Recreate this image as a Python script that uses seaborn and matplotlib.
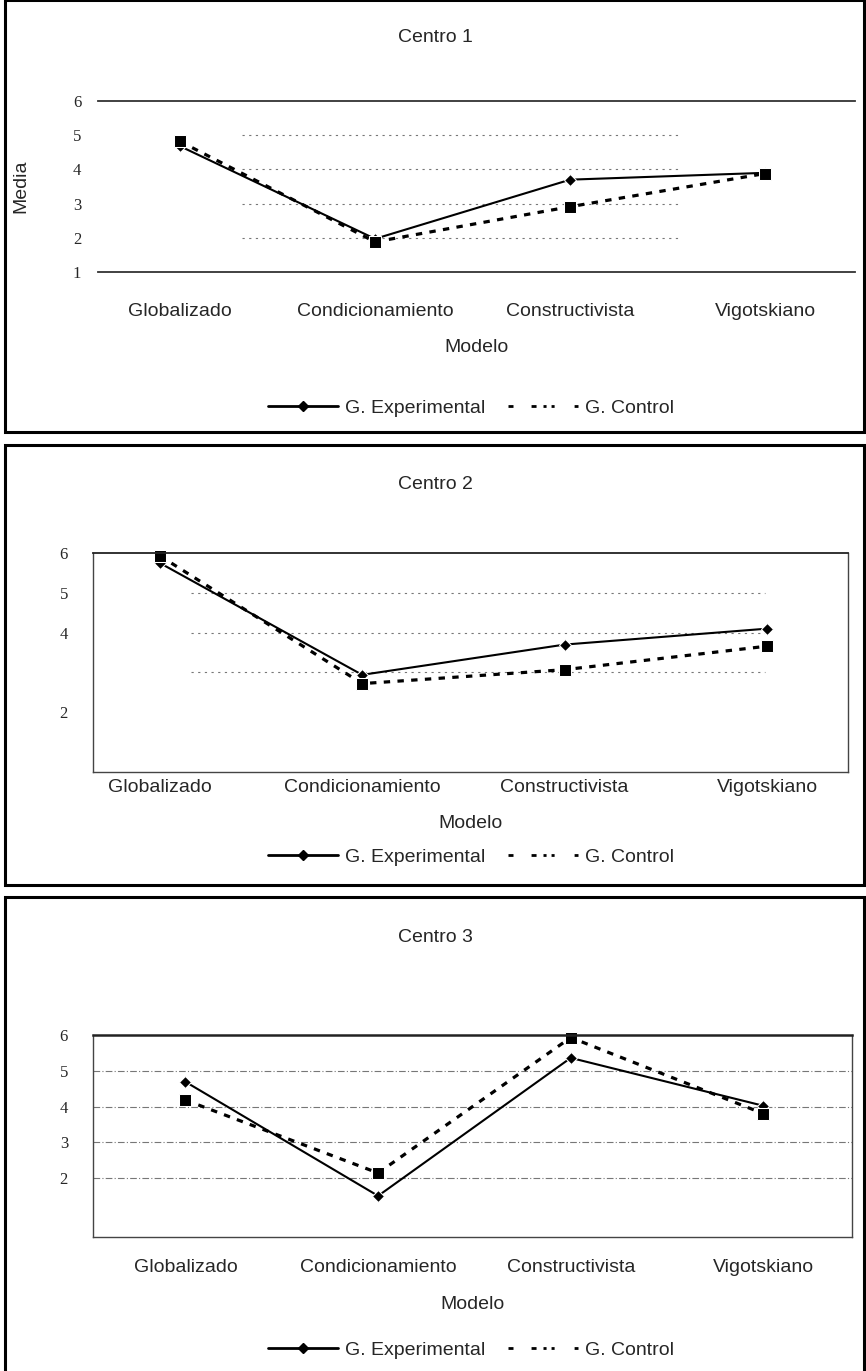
import numpy as np
import pandas as pd
import seaborn as sns
import matplotlib.pyplot as plt
from matplotlib.lines import Line2D
from matplotlib.patches import Rectangle

# data
modelos = ["Globalizado", "Condicionamiento", "Constructivista", "Vigotskiano"]
c1_exp = [4.68, 1.97, 3.70, 3.90]
c1_ctl = [4.82, 1.88, 2.91, 3.88]
c2_exp = [5.75, 2.94, 3.70, 4.10]
c2_ctl = [5.93, 2.72, 3.07, 3.66]
c3_exp = [4.69, 1.50, 5.36, 4.02]
c3_ctl = [4.18, 2.14, 5.93, 3.80]

sns.set_style("white")
plt.rcParams['font.family'] = ['Liberation Sans', 'DejaVu Sans']

W, H = 866, 1371
fig = plt.figure(figsize=(W / 100, H / 100), dpi=100)


def fx(px):
    return px / W


def fy(py):
    return 1 - py / H


ctl_dash = (0, (2.0, 2.3))
leg_dash = (0, (1.8, 6.5, 1.8, 2.5, 1.1, 1.8, 1.1, 7.2))

panels = [
    dict(title="Centro 1", exp=c1_exp, ctl=c1_ctl, box=(0, 432),
         ax=(98, 855, 101, 272), ylim=(1, 6), yticks=[1, 2, 3, 4, 5, 6],
         xlim=(-0.42, 3.46), grid=[2, 3, 4, 5], gx=(0.19, 0.77), gstyle=(0, (2, 4)),
         xpad=22, ypad=12, ty=37, ly=408),
    dict(title="Centro 2", exp=c2_exp, ctl=c2_ctl, box=(445, 885),
         ax=(93, 848, 553, 772), ylim=(0.5, 6), yticks=[2, 4, 5, 6],
         xlim=(-0.33, 3.4), grid=[3, 4, 5], gx=(0.13, 0.89), gstyle=(0, (2, 4)),
         xpad=5, ypad=18, ty=484, ly=857),
    dict(title="Centro 3", exp=c3_exp, ctl=c3_ctl, box=(897, 1380),
         ax=(93, 852, 1035, 1237), ylim=(0.35, 6), yticks=[2, 3, 4, 5, 6],
         xlim=(-0.48, 3.46), grid=[2, 3, 4, 5], gx=(0.0, 1.0), gstyle=(0, (6, 2, 1, 2)),
         xpad=16, ypad=18, ty=937, ly=1350),
]

for i, p in enumerate(panels):
    # outer frame of each chart
    b0, b1 = p["box"]
    fig.patches.append(Rectangle((fx(5), fy(b1)), fx(864 - 5), (b1 - b0) / H,
                                 transform=fig.transFigure, fill=False,
                                 edgecolor="black", linewidth=2.2))
    fig.text(fx(435), fy(p["ty"]), p["title"], ha="center", va="center", fontsize=14)

    l, r, t, b = p["ax"]
    ax = fig.add_axes([fx(l), fy(b), fx(r - l), (b - t) / H])

    df = pd.DataFrame({"Modelo": modelos, "exp": p["exp"], "ctl": p["ctl"]})
    sns.lineplot(data=df, x="Modelo", y="exp", sort=False, color="black",
                 linewidth=1.5, marker="D", markersize=6, ax=ax, clip_on=False)
    sns.lineplot(data=df, x="Modelo", y="ctl", sort=False, color="black",
                 linewidth=2.3, linestyle=ctl_dash, marker="s", markersize=8,
                 ax=ax, clip_on=False)

    for g in p["grid"]:
        ax.axhline(g, xmin=p["gx"][0], xmax=p["gx"][1], color="#777777",
                   linewidth=0.8, linestyle=p["gstyle"], zorder=0)

    ax.set_xlim(*p["xlim"])
    ax.set_ylim(*p["ylim"])
    ax.set_yticks(p["yticks"])
    ax.set_yticklabels([str(v) for v in p["yticks"]], family="Liberation Serif", fontsize=12)
    ax.tick_params(axis="x", length=0, pad=p["xpad"], labelsize=14)
    ax.tick_params(axis="y", length=0, pad=p["ypad"])
    ax.set_xlabel("Modelo", fontsize=14, labelpad=14)

    if i == 0:
        ax.set_ylabel("Media", fontsize=14)
        ax.yaxis.set_label_coords(-0.09, 0.5)
        for s in ["left", "right"]:
            ax.spines[s].set_visible(False)
        ax.spines["top"].set_color("#333333")
        ax.spines["bottom"].set_color("#333333")
        ax.spines["top"].set_linewidth(1.3)
        ax.spines["bottom"].set_linewidth(1.3)
    else:
        ax.set_ylabel("")
        for s in ["left", "right", "bottom"]:
            ax.spines[s].set_color("#444444")
            ax.spines[s].set_linewidth(1.0)
        ax.spines["top"].set_color("#222222")
        ax.spines["top"].set_linewidth(1.8 if i == 2 else 1.3)

    handles = [
        Line2D([], [], color="black", linewidth=2, marker="D", markersize=5),
        Line2D([], [], color="black", linewidth=2, linestyle=leg_dash),
    ]
    ax.legend(handles, ["G. Experimental", "G. Control"], ncol=2, frameon=False,
              loc="center", bbox_to_anchor=(fx(471), fy(p["ly"])),
              bbox_transform=fig.transFigure, fontsize=14, handlelength=3.6,
              handletextpad=0.35, columnspacing=1.2, numpoints=1)

fig.savefig("out.png", dpi=100)
